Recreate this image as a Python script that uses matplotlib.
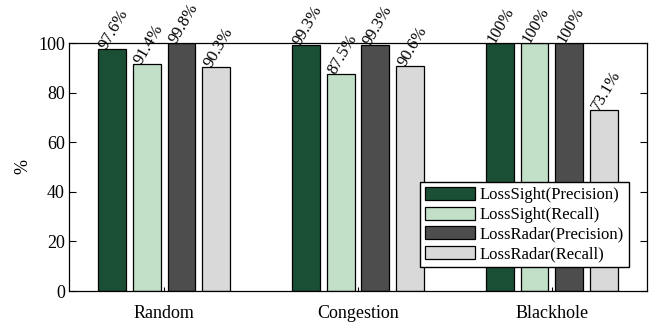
import matplotlib
matplotlib.use('Agg')
import matplotlib.pyplot as plt
import numpy as np

plt.rcParams['font.family'] = ['Liberation Serif', 'DejaVu Serif']

categories = ['Random', 'Congestion', 'Blackhole']
series = ['LossSight(Precision)', 'LossSight(Recall)',
          'LossRadar(Precision)', 'LossRadar(Recall)']
values = [
    [97.6, 99.3, 100],
    [91.4, 87.5, 100],
    [99.8, 99.3, 100],
    [90.3, 90.6, 73.1],
]
labels = [
    ['97.6%', '99.3%', '100%'],
    ['91.4%', '87.5%', '100%'],
    ['99.8%', '99.3%', '100%'],
    ['90.3%', '90.6%', '73.1%'],
]
colors = ['#1b4f35', '#c2dfc8', '#4d4d4d', '#d9d9d9']

fig = plt.figure(figsize=(6.57, 3.22), dpi=100)
ax = fig.add_axes([69 / 657, 1 - 291 / 322, 578 / 657, 248 / 322])

x = np.arange(len(categories))
w = 0.144
step = 0.18
for i, (vals, lab, c) in enumerate(zip(values, labels, colors)):
    xs = x + (i - 1.5) * step
    ax.bar(xs, vals, width=w, color=c, edgecolor='black', linewidth=0.9, label=series[i])
    for xi, v, t in zip(xs, vals, lab):
        ax.text(xi - w / 2 + 0.045, v - 0.4, t, rotation=60, rotation_mode='anchor',
                ha='left', va='baseline', fontsize=12)

ax.set_xlim(-0.49, 2.49)
ax.set_ylim(0, 100)
ax.set_xticks(x)
ax.set_xticklabels(categories, fontsize=13)
ax.set_yticks(range(0, 101, 20))
ax.tick_params(axis='y', labelsize=13, direction='in', right=True, length=5, width=0.8, pad=3)
ax.tick_params(axis='x', direction='in', length=3, width=0.8, pad=10)
ax.set_ylabel('%', fontsize=13, labelpad=5)
for s in ax.spines.values():
    s.set_linewidth(0.9)

ax.legend(loc='lower right', bbox_to_anchor=(0.968, 0.097), fontsize=12,
          frameon=True, fancybox=False, edgecolor='black', framealpha=1,
          handlelength=3.0, handleheight=0.8, borderpad=0.3, labelspacing=0.2,
          handletextpad=0.25, borderaxespad=0)

fig.savefig('out.png', dpi=100)
